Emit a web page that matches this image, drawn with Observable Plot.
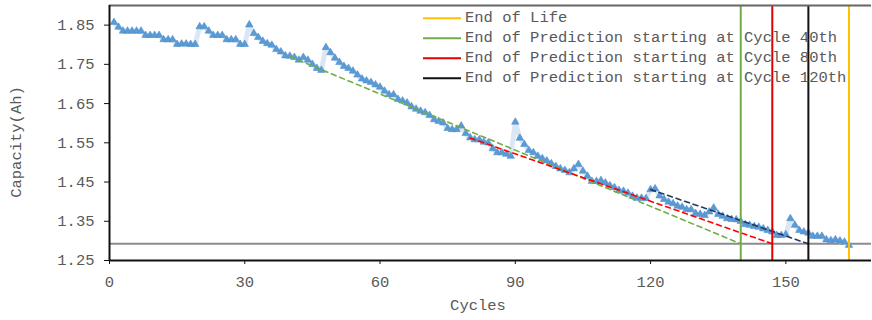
<!DOCTYPE html>
<html><head><meta charset="utf-8">
<script src="https://cdn.jsdelivr.net/npm/d3@7"></script>
<script src="https://cdn.jsdelivr.net/npm/@observablehq/plot@0.6"></script>
<style>body{margin:0;background:#fff} #chart{width:872px;height:320px}</style>
</head><body><div id="chart"></div>
<script>
// Measured capacity (Ah) for cycles 1..164
const capacity = [
1.857,1.845,1.835,1.835,1.835,1.835,1.835,1.824,1.824,1.824,
1.824,1.813,1.813,1.813,1.801,1.802,1.802,1.801,1.801,1.846,
1.846,1.835,1.824,1.824,1.824,1.813,1.813,1.813,1.801,1.801,
1.851,1.829,1.819,1.809,1.803,1.799,1.788,1.782,1.772,1.771,
1.768,1.761,1.768,1.761,1.750,1.740,1.735,1.793,1.780,1.766,
1.755,1.745,1.740,1.733,1.723,1.713,1.708,1.704,1.698,1.692,
1.682,1.673,1.673,1.661,1.657,1.652,1.642,1.636,1.631,1.627,
1.620,1.609,1.605,1.601,1.587,1.584,1.584,1.593,1.574,1.563,
1.558,1.558,1.552,1.550,1.535,1.525,1.525,1.521,1.516,1.603,
1.562,1.546,1.531,1.525,1.516,1.510,1.504,1.497,1.490,1.484,
1.480,1.474,1.484,1.495,1.478,1.465,1.452,1.452,1.454,1.448,
1.441,1.436,1.429,1.427,1.422,1.414,1.409,1.409,1.408,1.431,
1.433,1.415,1.406,1.399,1.395,1.389,1.386,1.380,1.380,1.370,
1.368,1.365,1.374,1.384,1.368,1.363,1.357,1.355,1.354,1.350,
1.342,1.340,1.337,1.335,1.331,1.327,1.323,1.314,1.314,1.316,
1.357,1.340,1.327,1.323,1.320,1.312,1.312,1.312,1.303,1.301,
1.303,1.300,1.297,1.289
];
const eolCapacity = 1.2926;
const endOfLifeCycle = 164;
const predStartCycle = [40, 80, 120];
const predStartCapacity = [1.770, 1.562, 1.431];
const predEndCycle = [140, 147, 155];
const legendLabels = [
  "End of Life",
  "End of Prediction starting at Cycle 40th",
  "End of Prediction starting at Cycle 80th",
  "End of Prediction starting at Cycle 120th"
];
const xTicks = [0, 30, 60, 90, 120, 150];
const yTicks = [1.25, 1.35, 1.45, 1.55, 1.65, 1.75, 1.85];

const predColors = ["#70AD47", "#FF0000", "#1F3864"];
const endColors = ["#70AD47", "#E00000", "#111111"];
const legendColors = ["#FFC000", "#70AD47", "#E00000", "#111111"];

const data = capacity.map((c, i) => ({cycle: i + 1, cap: c}));
const preds = predStartCycle.map((s, i) => ([
  {cycle: s, cap: predStartCapacity[i], k: i},
  {cycle: predEndCycle[i], cap: eolCapacity, k: i}
])).flat();

const font = "'Courier New', 'Liberation Mono', monospace";
const plot = Plot.plot({
  width: 872, height: 320,
  marginLeft: 109, marginRight: 1, marginTop: 5, marginBottom: 60,
  style: {fontFamily: font, fontSize: "15.5px", background: "#fff"},
  x: {domain: [0, 169]},
  y: {domain: [1.25, 1.9]},
  marks: [
    Plot.ruleY([eolCapacity], {stroke: "#8c8c8c", strokeWidth: 2}),
    Plot.line(data, {x: "cycle", y: "cap", stroke: "#dce7f6", strokeWidth: 5}),
    Plot.dot(data, {x: "cycle", y: "cap", symbol: "triangle", r: 2.8, fill: "#5B9BD5", stroke: "#4a8ac8", strokeWidth: 0.5}),
    Plot.line(preds, {x: "cycle", y: "cap", z: "k", stroke: d => predColors[d.k], strokeWidth: 1.6, strokeDasharray: "5,4"}),
    Plot.ruleX(predEndCycle, {stroke: (d, i) => endColors[i], strokeWidth: 2}),
    Plot.ruleX([endOfLifeCycle], {stroke: "#FFC000", strokeWidth: 2}),
    Plot.ruleY([1.9], {stroke: "#666", strokeWidth: 2}),
    Plot.ruleY([1.25], {stroke: "#111", strokeWidth: 2}),
    Plot.ruleX([0], {stroke: "#111", strokeWidth: 2}),
    Plot.axisX({ticks: xTicks, tickSize: 4, tickPadding: 11, label: null, stroke: "#111", fill: "#595959"}),
    Plot.axisY({ticks: yTicks, tickSize: 5, tickPadding: 10, tickFormat: d3.format(".2f"), label: null, stroke: "#111", fill: "#595959"})
  ]
});
document.getElementById("chart").appendChild(plot);

const svg = d3.select(plot);
svg.append("text").attr("x", 478).attr("y", 306).attr("text-anchor", "middle")
  .attr("dominant-baseline", "middle").attr("fill", "#595959")
  .style("font-family", font).style("font-size", "15.5px").text("Cycles");
svg.append("text").attr("transform", "translate(17,142) rotate(-90)").attr("text-anchor", "middle")
  .attr("dominant-baseline", "middle").attr("fill", "#595959")
  .style("font-family", font).style("font-size", "15.5px").text("Capacity(Ah)");
const lg = svg.append("g").attr("text-anchor", "start");
legendLabels.forEach((t, i) => {
  const y = 18.3 + i * 20;
  lg.append("line").attr("x1", 423).attr("x2", 461).attr("y1", y).attr("y2", y)
    .attr("stroke", legendColors[i]).attr("stroke-width", 2);
  lg.append("text").attr("x", 465).attr("y", y).attr("dominant-baseline", "middle")
    .attr("text-anchor", "start")
    .attr("fill", "#595959").style("font-family", font).style("font-size", "15.5px").text(t);
});
</script></body></html>
